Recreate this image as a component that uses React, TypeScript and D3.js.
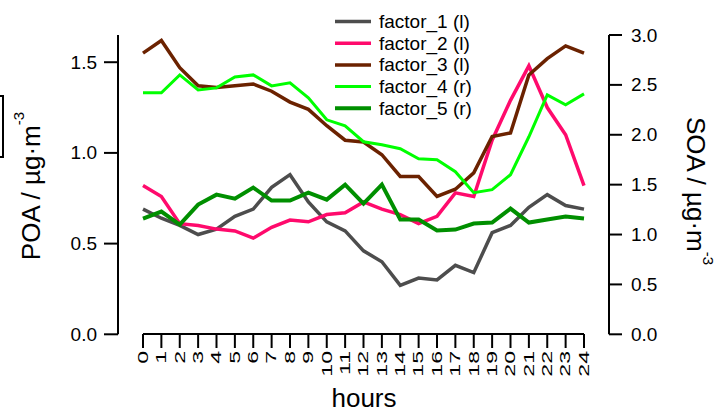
import React from "react";
import * as d3 from "d3";

const hours = [0, 1, 2, 3, 4, 5, 6, 7, 8, 9, 10, 11, 12, 13, 14, 15, 16, 17, 18, 19, 20, 21, 22, 23, 24];
const factor1 = [0.69, 0.64, 0.60, 0.55, 0.58, 0.65, 0.69, 0.81, 0.88, 0.73, 0.62, 0.57, 0.46, 0.40, 0.27, 0.31, 0.30, 0.38, 0.34, 0.56, 0.60, 0.70, 0.77, 0.71, 0.69];
const factor2 = [0.82, 0.76, 0.61, 0.60, 0.58, 0.57, 0.53, 0.59, 0.63, 0.62, 0.66, 0.67, 0.73, 0.69, 0.66, 0.61, 0.65, 0.78, 0.76, 1.07, 1.29, 1.48, 1.25, 1.10, 0.82];
const factor3 = [1.55, 1.62, 1.47, 1.37, 1.36, 1.37, 1.38, 1.34, 1.28, 1.24, 1.15, 1.07, 1.06, 0.99, 0.87, 0.87, 0.76, 0.80, 0.89, 1.09, 1.11, 1.43, 1.52, 1.59, 1.55];
const factor4 = [2.42, 2.42, 2.60, 2.45, 2.47, 2.58, 2.60, 2.49, 2.52, 2.37, 2.15, 2.09, 1.93, 1.90, 1.86, 1.76, 1.75, 1.63, 1.42, 1.45, 1.60, 1.98, 2.40, 2.30, 2.41];
const factor5 = [1.16, 1.23, 1.10, 1.30, 1.40, 1.36, 1.47, 1.34, 1.34, 1.42, 1.35, 1.50, 1.31, 1.50, 1.15, 1.15, 1.04, 1.05, 1.11, 1.12, 1.26, 1.12, 1.15, 1.18, 1.16];

const seriesNames = ["factor_1 (l)", "factor_2 (l)", "factor_3 (l)", "factor_4 (r)", "factor_5 (r)"];
const seriesAxis = ["l", "l", "l", "r", "r"];
const seriesColors = ["#4d4d4d", "#ff0a6c", "#6b2200", "#00ff00", "#008f00"];
const seriesWidths = [3.5, 3.5, 3.5, 3, 4];
const leftTicks = [0, 0.5, 1.0, 1.5];
const rightTicks = [0, 0.5, 1.0, 1.5, 2.0, 2.5, 3.0];

const FONT = "'Liberation Sans', Arial, sans-serif";

export default function App() {
  const x = d3.scaleLinear().domain([0, 24]).range([143, 584]);
  const yL = d3.scaleLinear().domain([0, 1.65]).range([334.3, 35]);
  const yR = d3.scaleLinear().domain([0, 3]).range([334.3, 35]);
  const data = [factor1, factor2, factor3, factor4, factor5];

  const lineFor = (vals: number[], axis: string) => {
    const ys = axis === "l" ? yL : yR;
    return d3
      .line<number>()
      .x((_, i) => x(hours[i]))
      .y((v) => ys(v))(vals) as string;
  };

  const axisBottomY = 334;

  return (
    <svg
      width={724}
      height={412}
      style={{ position: "absolute", left: 0, top: 0, background: "#fff" }}
      fontFamily={FONT}
    >
      <rect width={724} height={412} fill="#fff" />
      {/* corner artifact */}
      <path d="M0,96 H3 V157 H0" fill="none" stroke="#000" strokeWidth={2} />

      {/* series */}
      {data.map((vals, i) => (
        <path
          key={i}
          d={lineFor(vals, seriesAxis[i])}
          fill="none"
          stroke={seriesColors[i]}
          strokeWidth={seriesWidths[i]}
        />
      ))}

      {/* left axis */}
      <line x1={118} x2={118} y1={yL.range()[1]} y2={yL.range()[0]} stroke="#000" strokeWidth={2} />
      {leftTicks.map((t) => (
        <g key={t}>
          <line x1={104} x2={118} y1={yL(t)} y2={yL(t)} stroke="#000" strokeWidth={2} />
          <text x={97} y={yL(t)} textAnchor="end" dominantBaseline="central" fontSize={19}>
            {d3.format(".1f")(t)}
          </text>
        </g>
      ))}

      {/* right axis */}
      <line x1={609} x2={609} y1={yR.range()[1]} y2={yR.range()[0]} stroke="#000" strokeWidth={2} />
      {rightTicks.map((t) => (
        <g key={t}>
          <line x1={609} x2={622} y1={yR(t)} y2={yR(t)} stroke="#000" strokeWidth={2} />
          <text x={631} y={yR(t)} textAnchor="start" dominantBaseline="central" fontSize={19}>
            {d3.format(".1f")(t)}
          </text>
        </g>
      ))}

      {/* bottom axis */}
      <line x1={x(0)} x2={x(24)} y1={axisBottomY} y2={axisBottomY} stroke="#000" strokeWidth={2} />
      {hours.map((h) => (
        <g key={h}>
          <line x1={x(h)} x2={x(h)} y1={axisBottomY} y2={axisBottomY + 14} stroke="#000" strokeWidth={2} />
          <text
            transform={`translate(${x(h)},${351}) rotate(-90) scale(1.65,1)`}
            textAnchor="end"
            dominantBaseline="central"
            fontSize={14}
          >
            {String(h)}
          </text>
        </g>
      ))}

      {/* axis titles */}
      <text x={364} y={407} textAnchor="middle" fontSize={26}>
        hours
      </text>
      <text transform="translate(40,186) rotate(-90)" textAnchor="middle" fontSize={26}>
        POA / µg·m<tspan fontSize={15} dy={-16}>-3</tspan>
      </text>
      <text transform="translate(687,191) rotate(90)" textAnchor="middle" fontSize={26}>
        SOA / µg·m<tspan fontSize={15} dy={-16}>-3</tspan>
      </text>

      {/* legend */}
      {seriesNames.map((name, i) => {
        const yy = 21.5 + i * 21.7;
        return (
          <g key={name}>
            <line x1={335} x2={371} y1={yy} y2={yy} stroke={seriesColors[i]} strokeWidth={seriesWidths[i]} />
            <text x={379} y={yy} dominantBaseline="central" fontSize={19}>
              {name}
            </text>
          </g>
        );
      })}
    </svg>
  );
}
